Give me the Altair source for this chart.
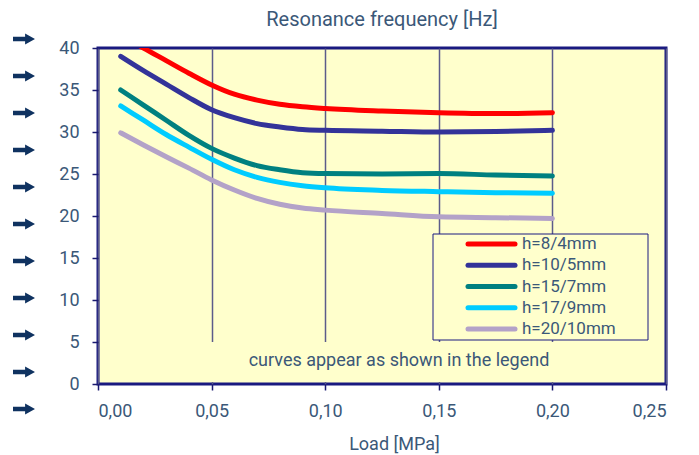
import altair as alt
import pandas as pd

# ---- data ----
load = [0.01, 0.02, 0.03, 0.04, 0.05, 0.06, 0.07, 0.08, 0.09, 0.10, 0.125, 0.15, 0.175, 0.20]
h8_4 = [41.6, 40.0, 38.5, 37.0, 35.6, 34.5, 33.8, 33.3, 33.0, 32.8, 32.5, 32.3, 32.2, 32.3]
h10_5 = [39.0, 37.3, 35.7, 34.1, 32.65, 31.7, 31.0, 30.6, 30.3, 30.2, 30.1, 30.0, 30.05, 30.2]
h15_7 = [35.0, 33.2, 31.4, 29.6, 28.05, 26.9, 26.0, 25.5, 25.15, 25.05, 25.0, 25.05, 24.88, 24.76]
h17_9 = [33.1, 31.4, 29.7, 28.2, 26.75, 25.5, 24.6, 24.0, 23.6, 23.35, 23.05, 22.9, 22.78, 22.7]
h20_10 = [29.9, 28.45, 27.05, 25.7, 24.3, 23.1, 22.1, 21.4, 20.95, 20.7, 20.3, 19.9, 19.8, 19.7]

series = ["h=8/4mm", "h=10/5mm", "h=15/7mm", "h=17/9mm", "h=20/10mm"]
colors = ["#ff0000", "#333399", "#008080", "#00ccff", "#b3a2c8"]
x_ticks = [0.0, 0.05, 0.10, 0.15, 0.20, 0.25]
y_ticks = [0, 5, 10, 15, 20, 25, 30, 35, 40]
arrow_rows = list(range(11))
title_text = "Resonance frequency [Hz]"
x_title = "Load [MPa]"
note = "curves appear as shown in the legend"

TEXT = "#3b5878"
FONT = "Roboto"
ARROW = "M-1,-0.2 L0.1,-0.2 L0.1,-0.5 L1,0 L0.1,0.5 L0.1,0.2 L-1,0.2 Z"

rows = []
for name, vals in zip(series, [h8_4, h10_5, h15_7, h17_9, h20_10]):
    for x, y in zip(load, vals):
        rows.append({"load": x, "freq": y, "series": name})
df = pd.DataFrame(rows)

color = alt.Color("series:N", scale=alt.Scale(domain=series, range=colors), legend=None)

lines = alt.Chart(df).mark_line(
    interpolate="monotone", strokeWidth=5, strokeCap="round", clip=True
).encode(
    x=alt.X("load:Q", scale=alt.Scale(domain=[0, 0.25], nice=False),
            axis=alt.Axis(values=x_ticks, title=x_title,
                          labelExpr="replace(format(datum.value, '.2f'), '.', ',')",
                          labelBaseline="alphabetic", labelPadding=26,
                          gridColor="#5c5c8a", gridWidth=1.5,
                          titleX=296, titleY=65, titleBaseline="alphabetic",
                          titleAlign="center")),
    y=alt.Y("freq:Q", scale=alt.Scale(domain=[0, 40], nice=False),
            axis=alt.Axis(values=y_ticks, title=None, orient="left",
                          labelPadding=13, gridColor="#000080", gridWidth=1)),
    color=color,
)

one = pd.DataFrame({"k": [0]})
note_box = alt.Chart(one).mark_rect(fill="#ffffcc").encode(
    x=alt.value(90), x2=alt.value(507), y=alt.value(294), y2=alt.value(334))
legend_box = alt.Chart(one).mark_rect(fill="#ffffcc", stroke="#1a1a80", strokeWidth=1).encode(
    x=alt.value(335), x2=alt.value(550), y=alt.value(186), y2=alt.value(292))

note_df = pd.DataFrame({"t": [note]})
note_text = alt.Chart(note_df).mark_text(
    font=FONT, fontSize=18, color=TEXT, align="center", baseline="middle"
).encode(x=alt.value(301), y=alt.value(313), text="t:N")

title_df = pd.DataFrame({"t": [title_text]})
title_mark = alt.Chart(title_df).mark_text(
    font=FONT, fontSize=20, color=TEXT, align="center", baseline="alphabetic"
).encode(x=alt.value(284), y=alt.value(-22), text="t:N")

leg_df = pd.DataFrame({"series": series, "i": list(range(len(series)))})
leg_y = alt.Y("i:Q", scale=alt.Scale(domain=[0, 4], range=[196, 281]), axis=None)
leg_rule = alt.Chart(leg_df).mark_rule(strokeWidth=5, strokeCap="round").encode(
    x=alt.value(370), x2=alt.value(417), y=leg_y, color=color)
leg_text = alt.Chart(leg_df).mark_text(
    font=FONT, fontSize=17, color=TEXT, align="left", baseline="middle"
).encode(x=alt.value(424), y=leg_y, text="series:N")

arr_df = pd.DataFrame({"k": arrow_rows})
arrows = alt.Chart(arr_df).mark_point(
    shape=ARROW, filled=True, size=484, color="#0f3260", opacity=1, strokeWidth=0
).encode(
    x=alt.value(-74),
    y=alt.Y("k:Q", scale=alt.Scale(domain=[0, 10], range=[-9, 361]), axis=None),
)

chart = alt.layer(
    arrows, note_box, legend_box, lines, leg_rule, leg_text, note_text, title_mark
).resolve_scale(y="independent").properties(
    width=568, height=336,
    autosize=alt.AutoSizeParams(type="none"),
    padding={"left": 90, "top": 40, "right": 25, "bottom": 70},
    background="white",
).configure_view(
    fill="#ffffcc", stroke="#1a1a80", strokeWidth=3
).configure_axis(
    domain=False, tickColor="#1a1a70", tickWidth=1.5, tickSize=6,
    labelFont=FONT, labelFontSize=18, labelColor=TEXT,
    titleFont=FONT, titleFontSize=18, titleColor=TEXT, titleFontWeight="normal",
)

chart.save("out.html", embed_options={"renderer": "svg", "actions": False})
